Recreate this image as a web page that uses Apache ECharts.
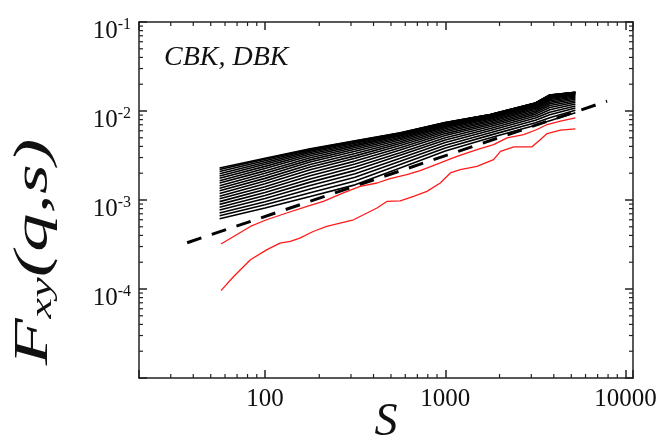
<!DOCTYPE html>
<html>
<head>
<meta charset="utf-8">
<script src="https://cdn.jsdelivr.net/npm/echarts@6/dist/echarts.min.js"></script>
<style>
  html, body { margin: 0; padding: 0; background: #fff; }
  #chart { width: 660px; height: 439px; }
</style>
</head>
<body>
<div id="chart"></div>
<script>
// scale s shared by the black family
const sGrid = [56, 100, 178, 316, 562, 1000, 1778, 3162, 3800, 5270];

// log10 F_xy(q,s) of the black family, one row per q (top curve first)
const blackLogF = [
  [-2.640, -2.530, -2.425, -2.335, -2.246, -2.130, -2.040, -1.910, -1.820, -1.790],
  [-2.658, -2.541, -2.429, -2.337, -2.247, -2.130, -2.040, -1.910, -1.820, -1.790],
  [-2.680, -2.558, -2.438, -2.343, -2.250, -2.132, -2.041, -1.911, -1.821, -1.791],
  [-2.704, -2.578, -2.451, -2.351, -2.255, -2.135, -2.043, -1.913, -1.823, -1.792],
  [-2.730, -2.599, -2.466, -2.362, -2.262, -2.139, -2.046, -1.915, -1.825, -1.794],
  [-2.756, -2.622, -2.483, -2.376, -2.271, -2.145, -2.051, -1.919, -1.829, -1.797],
  [-2.783, -2.647, -2.503, -2.392, -2.281, -2.153, -2.056, -1.924, -1.834, -1.801],
  [-2.810, -2.673, -2.525, -2.410, -2.294, -2.162, -2.063, -1.930, -1.841, -1.807],
  [-2.839, -2.700, -2.549, -2.430, -2.309, -2.173, -2.072, -1.938, -1.849, -1.813],
  [-2.867, -2.728, -2.574, -2.453, -2.326, -2.185, -2.081, -1.947, -1.859, -1.821],
  [-2.897, -2.757, -2.602, -2.477, -2.345, -2.200, -2.093, -1.957, -1.871, -1.831],
  [-2.926, -2.787, -2.630, -2.504, -2.365, -2.216, -2.106, -1.970, -1.885, -1.842],
  [-2.957, -2.818, -2.661, -2.532, -2.388, -2.234, -2.120, -1.983, -1.901, -1.854],
  [-2.987, -2.850, -2.693, -2.563, -2.412, -2.254, -2.137, -1.999, -1.919, -1.868],
  [-3.018, -2.882, -2.727, -2.595, -2.439, -2.276, -2.154, -2.016, -1.939, -1.884],
  [-3.049, -2.915, -2.763, -2.630, -2.468, -2.300, -2.174, -2.035, -1.961, -1.902],
  [-3.081, -2.949, -2.799, -2.667, -2.498, -2.326, -2.196, -2.056, -1.986, -1.922],
  [-3.113, -2.983, -2.837, -2.704, -2.531, -2.353, -2.219, -2.079, -2.013, -1.943],
  [-3.145, -3.019, -2.877, -2.745, -2.565, -2.384, -2.244, -2.104, -2.043, -1.967],
  [-3.178, -3.054, -2.918, -2.787, -2.602, -2.416, -2.271, -2.131, -2.075, -1.992],
  [-3.210, -3.090, -2.960, -2.830, -2.640, -2.450, -2.300, -2.160, -2.110, -2.020]
];

// upper red curve
const redUpperS = [57, 67, 83, 102, 132, 171, 211, 272, 337, 418, 494, 612, 726, 938,
  1161, 1500, 1854, 2203, 2723, 3228, 3673, 4355, 5270];
const redUpperLogF = [-3.495, -3.410, -3.297, -3.222, -3.146, -3.072, -3.016, -2.921, -2.847,
  -2.809, -2.760, -2.715, -2.670, -2.583, -2.509, -2.434, -2.377, -2.302, -2.265, -2.208,
  -2.152, -2.115, -2.077];

// lower red curve
const redLowerS = [57, 67, 83, 102, 121, 138, 156, 185, 220, 261, 310, 352, 418, 474, 562,
  667, 791, 938, 1067, 1211, 1500, 1854, 2023, 2399, 3027, 3373, 3673, 4355, 5270];
const redLowerLogF = [-4.018, -3.860, -3.672, -3.560, -3.484, -3.466, -3.428, -3.354, -3.297,
  -3.259, -3.222, -3.166, -3.090, -3.016, -3.010, -2.959, -2.903, -2.809, -2.696, -2.659,
  -2.622, -2.546, -2.453, -2.403, -2.403, -2.321, -2.253, -2.216, -2.200];

// dashed power-law guide
const fitS = [37, 7900];
const fitF = [3.31e-4, 1.29e-2];

// minor tick positions
const xMinorTicks = [30, 40, 50, 60, 70, 80, 90, 200, 300, 400, 500, 600, 700, 800, 900,
  2000, 3000, 4000, 5000, 6000, 7000, 8000, 9000];
const yMinorTicks = [2e-5, 3e-5, 4e-5, 5e-5, 6e-5, 7e-5, 8e-5, 9e-5,
  2e-4, 3e-4, 4e-4, 5e-4, 6e-4, 7e-4, 8e-4, 9e-4,
  2e-3, 3e-3, 4e-3, 5e-3, 6e-3, 7e-3, 8e-3, 9e-3,
  2e-2, 3e-2, 4e-2, 5e-2, 6e-2, 7e-2, 8e-2, 9e-2];

const SERIF = 'Liberation Serif';
const INK = '#222';

const chart = echarts.init(document.getElementById('chart'));

function isDecade(v) {
  const e = Math.log10(v);
  return Math.abs(e - Math.round(e)) < 0.01;
}

function minorTicks(dir) {
  return function (params, api) {
    const cs = params.coordSys;
    const len = 4;
    const st = { stroke: INK, lineWidth: 1.2 };
    const p = api.coord([api.value(0), api.value(1)]);
    if (dir === 'x') {
      const b = cs.y + cs.height, t = cs.y;
      return { type: 'group', children: [
        { type: 'line', shape: { x1: p[0], y1: b, x2: p[0], y2: b - len }, style: st },
        { type: 'line', shape: { x1: p[0], y1: t, x2: p[0], y2: t + len }, style: st }
      ] };
    }
    const l = cs.x, r = cs.x + cs.width;
    return { type: 'group', children: [
      { type: 'line', shape: { x1: l, y1: p[1], x2: l + len, y2: p[1] }, style: st },
      { type: 'line', shape: { x1: r, y1: p[1], x2: r - len, y2: p[1] }, style: st }
    ] };
  };
}

const frameLine = { lineStyle: { color: INK, width: 1.5 } };
const frameTick = { inside: true, length: 8, lineStyle: { color: INK, width: 1.5 } };

const series = [];
blackLogF.forEach(function (row, k) {
  series.push({
    type: 'line',
    name: 'q' + k,
    data: row.map(function (v, i) { return [sGrid[i], Math.pow(10, v)]; }),
    symbol: 'none',
    silent: true,
    lineStyle: { color: '#000', width: 1.6 }
  });
});
series.push({
  type: 'line',
  data: fitS.map(function (s, i) { return [s, fitF[i]]; }),
  symbol: 'none',
  silent: true,
  lineStyle: { color: '#000', width: 3, type: [15, 11] }
});
series.push({
  type: 'line',
  data: redUpperS.map(function (s, i) { return [s, Math.pow(10, redUpperLogF[i])]; }),
  symbol: 'none',
  silent: true,
  lineStyle: { color: '#ff1a1a', width: 1.3 }
});
series.push({
  type: 'line',
  data: redLowerS.map(function (s, i) { return [s, Math.pow(10, redLowerLogF[i])]; }),
  symbol: 'none',
  silent: true,
  lineStyle: { color: '#ff1a1a', width: 1.3 }
});
series.push({
  type: 'custom',
  renderItem: minorTicks('x'),
  data: xMinorTicks.map(function (v) { return [v, 1e-3]; }),
  silent: true
});
series.push({
  type: 'custom',
  renderItem: minorTicks('y'),
  data: yMinorTicks.map(function (v) { return [100, v]; }),
  silent: true
});

chart.setOption({
  animation: false,
  title: {
    text: 'CBK, DBK',
    left: 164,
    top: 44,
    padding: 0,
    textStyle: { fontFamily: SERIF, fontStyle: 'italic', fontWeight: 'normal', fontSize: 28, color: '#111' }
  },
  grid: { left: 139, top: 22, right: 27, bottom: 61, outerBoundsMode: 'none' },
  xAxis: [
    {
      type: 'log', logBase: 10, min: 20, max: 11000, position: 'bottom',
      axisLine: frameLine, axisTick: frameTick, splitLine: { show: false },
      axisLabel: {
        margin: 9, fontFamily: SERIF, fontSize: 25, color: '#111',
        formatter: function (v) { return isDecade(v) ? String(Math.round(v)) : ''; }
      },
      name: 'S', nameLocation: 'middle', nameGap: 22, nameMoveOverlap: false,
      nameTextStyle: { fontFamily: SERIF, fontStyle: 'italic', fontSize: 46, color: '#111' }
    },
    {
      type: 'log', logBase: 10, min: 20, max: 11000, position: 'top',
      axisLine: frameLine, axisTick: frameTick, splitLine: { show: false },
      axisLabel: { show: false }
    }
  ],
  yAxis: [
    {
      type: 'log', logBase: 10, min: 1e-5, max: 1e-1, position: 'left',
      axisLine: frameLine, axisTick: frameTick, splitLine: { show: false },
      axisLabel: {
        margin: 8, padding: [19, 0, 0, 0],
        formatter: function (v) {
          const e = Math.round(Math.log10(v));
          if (!isDecade(v) || e < -4) return '';
          return '{b|10}{s|' + e + '}';
        },
        rich: {
          b: { fontFamily: SERIF, fontSize: 25, lineHeight: 30, color: '#111' },
          s: { fontFamily: SERIF, fontSize: 16, verticalAlign: 'top', color: '#111' }
        }
      }
    },
    {
      type: 'log', logBase: 10, min: 1e-5, max: 1e-1, position: 'right',
      axisLine: frameLine, axisTick: frameTick, splitLine: { show: false },
      axisLabel: { show: false }
    }
  ],
  graphic: [
    {
      type: 'text',
      x: 34,
      y: 252,
      rotation: Math.PI / 2,
      scaleX: 1.6,
      style: {
        text: '{f|F}{sub|xy}{p|(q,s)}',
        align: 'center',
        verticalAlign: 'middle',
        rich: {
          f: { fontFamily: SERIF, fontStyle: 'italic', fontSize: 48, lineHeight: 48, fill: '#111' },
          sub: { fontFamily: SERIF, fontStyle: 'italic', fontSize: 29, verticalAlign: 'bottom', fill: '#111' },
          p: { fontFamily: SERIF, fontStyle: 'italic', fontSize: 48, lineHeight: 48, fill: '#111' }
        }
      }
    }
  ],
  series: series
});
</script>
</body>
</html>
